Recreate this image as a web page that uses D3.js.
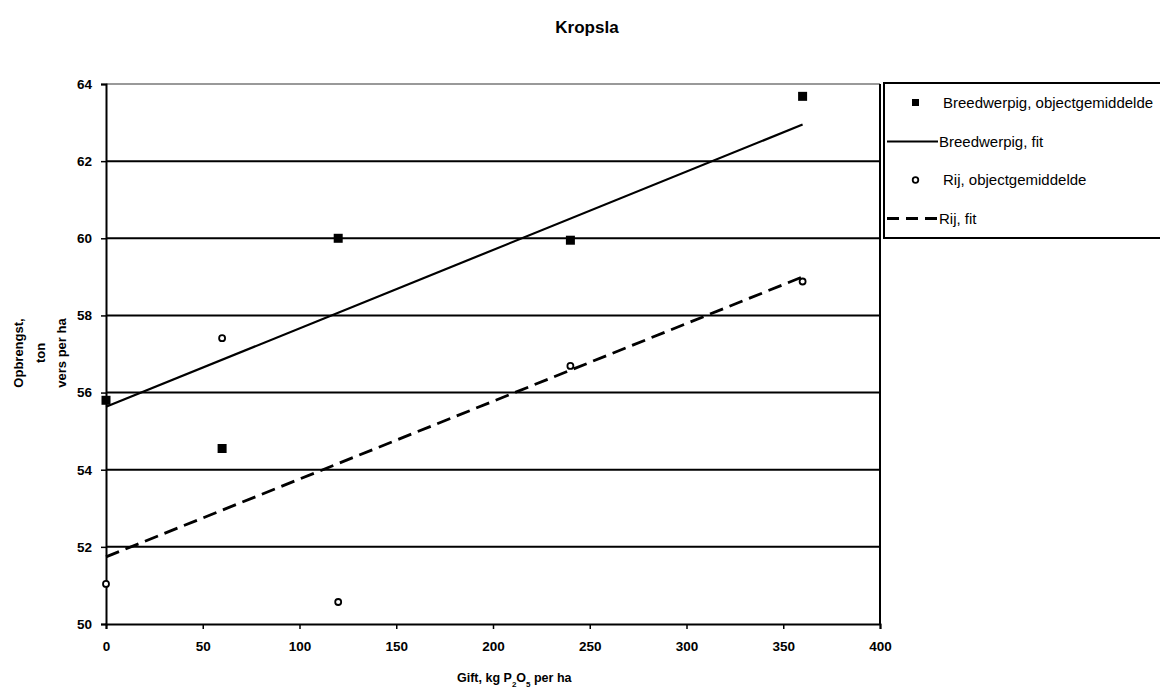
<!DOCTYPE html>
<html lang="nl">
<head>
<meta charset="UTF-8">
<title>Kropsla</title>
<script src="https://d3js.org/d3.v7.min.js"></script>
<style>
 body { margin: 0; background: #fff; font-family: Arial, "Liberation Sans", sans-serif; }
 .grid { stroke: #000; stroke-width: 2px; }
 .tick text { font-size: 13.5px; font-weight: bold; }
 .leg text { font-size: 15px; }
</style>
</head>
<body>
<div id="chart"></div>
<script>
// Data
const doses = [0, 60, 120, 240, 360];
const breedMeans = [55.8, 54.55, 60.0, 59.95, 63.68];
const rijMeans = [51.04, 57.41, 50.57, 56.69, 58.88];
const fitX = [0, 360];
const breedFit = [55.63, 62.95];
const rijFit = [51.74, 59.0];
const xTicks = [0, 50, 100, 150, 200, 250, 300, 350, 400];
const yTicks = [50, 52, 54, 56, 58, 60, 62, 64];

const width = 1160, height = 689;
const svg = d3.select('#chart').append('svg')
  .attr('width', width)
  .attr('height', height);

const x = d3.scaleLinear().domain([0, 400]).range([106, 880]);
const y = d3.scaleLinear().domain([50, 64]).range([624, 84]);

// title
svg.append('text')
  .attr('x', 587).attr('y', 33)
  .attr('text-anchor', 'middle')
  .style('font-size', '17px').style('font-weight', 'bold')
  .text('Kropsla');

// gridlines
svg.selectAll('.grid')
  .data(yTicks.slice(1, -1))
  .enter().append('line')
  .attr('class', 'grid')
  .attr('x1', x(0)).attr('x2', x(400))
  .attr('y1', d => y(d)).attr('y2', d => y(d));

// top border (thin, grey)
svg.append('line')
  .attr('x1', x(0)).attr('x2', x(400))
  .attr('y1', y(64)).attr('y2', y(64))
  .attr('stroke', '#777').attr('stroke-width', 1.5);

// right border
svg.append('line')
  .attr('x1', x(400)).attr('x2', x(400))
  .attr('y1', y(64)).attr('y2', y(50))
  .attr('stroke', '#000').attr('stroke-width', 2);

// axes
const xAxis = svg.append('g')
  .attr('transform', `translate(0,${y(50)})`)
  .call(d3.axisBottom(x).tickValues(xTicks).tickSize(5).tickPadding(12));
const yAxis = svg.append('g')
  .attr('transform', `translate(${x(0)},0)`)
  .call(d3.axisLeft(y).tickValues(yTicks).tickSize(5).tickPadding(9));
[xAxis, yAxis].forEach(a => {
  a.select('.domain').attr('stroke-width', 2);
  a.selectAll('.tick line').attr('stroke-width', 1.5);
});

// axis titles
svg.append('text')
  .attr('x', 457).attr('y', 682)
  .style('font-size', '12.5px').style('font-weight', 'bold')
  .html('Gift, kg P<tspan baseline-shift="sub" font-size="8px">2</tspan>O<tspan baseline-shift="sub" font-size="8px">5</tspan> per ha');

const yLab = svg.append('text')
  .attr('transform', 'translate(0,353) rotate(-90)')
  .attr('text-anchor', 'middle')
  .style('font-size', '13px').style('font-weight', 'bold');
[['Opbrengst,', 23], ['ton', 45], ['vers per ha', 66]].forEach(([t, px]) => {
  yLab.append('tspan').attr('x', 0).attr('y', px).text(t);
});

// fit lines
const line = d3.line().x(d => x(d[0])).y(d => y(d[1]));
svg.append('path')
  .datum(fitX.map((v, i) => [v, breedFit[i]]))
  .attr('d', line)
  .attr('fill', 'none').attr('stroke', '#000').attr('stroke-width', 2.2);
svg.append('path')
  .datum(fitX.map((v, i) => [v, rijFit[i]]))
  .attr('d', line)
  .attr('fill', 'none').attr('stroke', '#000').attr('stroke-width', 2.8)
  .attr('stroke-dasharray', '14,7');

// markers
svg.selectAll('.sq')
  .data(doses.map((d, i) => [d, breedMeans[i]]))
  .enter().append('rect')
  .attr('x', d => x(d[0]) - 4.5).attr('y', d => y(d[1]) - 4.5)
  .attr('width', 9).attr('height', 9)
  .attr('fill', '#000');
svg.selectAll('.ci')
  .data(doses.map((d, i) => [d, rijMeans[i]]))
  .enter().append('circle')
  .attr('cx', d => x(d[0])).attr('cy', d => y(d[1]))
  .attr('r', 3)
  .attr('fill', '#fff').attr('stroke', '#000').attr('stroke-width', 1.8);

// legend
const leg = svg.append('g').attr('class', 'leg');
leg.append('rect')
  .attr('x', 884).attr('y', 83)
  .attr('width', 290).attr('height', 155)
  .attr('fill', '#fff').attr('stroke', '#000').attr('stroke-width', 2);
const items = [
  { label: 'Breedwerpig, objectgemiddelde', type: 'square' },
  { label: 'Breedwerpig, fit', type: 'solid' },
  { label: 'Rij, objectgemiddelde', type: 'circle' },
  { label: 'Rij, fit', type: 'dashed' }
];
items.forEach((it, i) => {
  const cy = 103 + i * 38.5;
  if (it.type === 'square') {
    leg.append('rect').attr('x', 912).attr('y', cy - 4).attr('width', 7).attr('height', 7).attr('fill', '#000');
  } else if (it.type === 'circle') {
    leg.append('circle').attr('cx', 915.5).attr('cy', cy).attr('r', 2.8)
      .attr('fill', '#fff').attr('stroke', '#000').attr('stroke-width', 1.8);
  } else {
    leg.append('line').attr('x1', 887).attr('x2', 938).attr('y1', cy).attr('y2', cy)
      .attr('stroke', '#000').attr('stroke-width', it.type === 'solid' ? 1.8 : 2.8)
      .attr('stroke-dasharray', it.type === 'dashed' ? '12,7' : null);
  }
  leg.append('text')
    .attr('x', it.type === 'square' || it.type === 'circle' ? 943 : 939)
    .attr('y', cy + 5)
    .text(it.label);
});
</script>
</body>
</html>
